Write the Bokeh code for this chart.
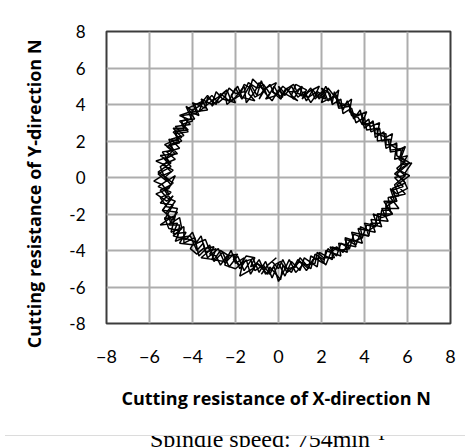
from bokeh.plotting import figure
from bokeh.models import FixedTicker, Div, Range1d
from bokeh.layouts import column
from bokeh.embed import file_html
from bokeh.resources import INLINE

# Cutting-force trajectory (laps), N
lap1_x = [-5.3, -4.9, -5.4, -4.8, -5.2, -4.6, -5.0, -4.4, -4.8, -4.1, -4.5, -3.8, -4.0, -3.4, -3.3, -2.9,
          -2.7, -2.3, -2.0, -1.7, -1.3, -1.0, -0.8, -0.5, -0.2, 0.1, 0.4, 0.7, 1.0, 1.3, 1.6, 1.9, 2.2,
          2.5, 2.6, 3.0, 3.2, 3.5, 3.8, 4.0, 4.4, 4.5, 4.9, 5.0, 5.5, 5.4, 6.0, 5.6, 6.1,
          5.5, 5.9, 5.2, 5.6, 4.8, 5.1, 4.3, 4.5, 3.7, 3.9, 3.1, 3.2, 2.5, 2.5, 1.9, 1.8,
          1.2, 1.0, 0.6, 0.3, 0.0, -0.3, -0.6, -0.9, -1.2, -1.6, -1.9, -2.3, -2.6, -3.0, -3.2, -3.7, -3.9,
          -4.4, -4.4, -5.0, -4.8, -5.3, -4.9, -5.5, -5.0, -5.6, -5.1]
lap1_y = [0.0, 0.4, 0.7, 1.0, 1.4, 1.6, 2.1, 2.3, 2.8, 2.9, 3.4, 3.5, 4.1, 3.8, 4.4, 4.0,
          4.6, 4.2, 4.9, 4.3, 5.1, 4.5, 5.3, 4.4, 5.0, 4.3, 4.9, 4.3, 4.9, 4.2, 4.8, 4.3, 5.0,
          4.1, 4.7, 3.7, 4.2, 3.2, 3.7, 2.7, 3.1, 2.2, 2.5, 1.6, 1.9, 1.0, 1.2, 0.4, 0.1,
          -0.4, -0.9, -1.1, -1.7, -1.7, -2.4, -2.3, -3.0, -2.8, -3.6, -3.3, -4.1, -3.8, -4.5, -4.1, -4.9,
          -4.4, -5.1, -4.6, -5.4, -4.7, -5.5, -4.6, -5.2, -4.4, -5.1, -4.3, -4.9, -4.1, -4.6, -3.7, -4.3, -3.3,
          -3.6, -2.7, -3.0, -2.1, -2.3, -1.5, -1.4, -0.8, -0.5, -0.1]
lap2_x = [-5.1, -5.6, -5.0, -5.5, -4.7, -5.1, -4.5, -4.9, -4.2, -4.6, -3.9, -4.2, -3.5, -3.7, -3.0, -3.1,
          -2.5, -2.4, -2.0, -1.6, -1.5, -1.1, -0.9, -0.6, -0.3, 0.0, 0.3, 0.6, 0.9, 1.2, 1.5, 1.8, 2.1,
          2.3, 2.7, 2.8, 3.3, 3.4, 3.7, 3.9, 4.2, 4.3, 4.7, 4.8, 5.2, 5.2, 5.7, 5.7, 6.2, 5.8,
          5.4, 5.8, 5.3, 5.5, 4.9, 5.3, 4.6, 4.8, 4.0, 4.2, 3.4, 3.6, 2.8, 2.9, 2.2, 2.1, 1.5,
          1.4, 0.9, 0.6, 0.2, 0.1, -0.4, -0.5, -1.0, -1.3, -1.5, -1.8, -2.1, -2.5, -2.8, -3.3, -3.5,
          -3.8, -4.1, -4.7, -4.6, -5.1, -4.7, -5.4, -5.0, -5.3, -4.9, -5.3]
lap2_y = [-0.1, 0.3, 0.8, 1.2, 1.3, 1.8, 2.0, 2.5, 2.6, 3.1, 3.2, 3.8, 4.2, 3.6, 4.3, 3.9,
          4.7, 4.0, 4.4, 5.0, 4.1, 4.7, 5.2, 4.6, 4.2, 4.8, 4.5, 5.0, 4.4, 4.7, 4.1, 4.6, 4.4,
          4.9, 4.3, 3.8, 3.9, 3.4, 3.3, 2.9, 3.2, 2.5, 2.7, 2.0, 2.1, 1.4, 1.5, 0.7, 0.8, 0.1,
          0.0, -0.5, -0.7, -1.3, -1.3, -2.0, -2.0, -2.7, -2.5, -3.2, -3.0, -3.8, -3.6, -4.3, -4.0, -4.7, -4.3,
          -5.0, -4.5, -5.2, -4.8, -5.6, -4.9, -5.3, -4.7, -5.3, -4.5, -5.0, -4.2, -4.7, -3.9, -4.4, -3.6,
          -4.0, -3.2, -3.3, -2.6, -2.6, -1.9, -1.8, -1.2, -0.7, -0.3, 0.0]
lap3_x = [2.4, 2.0, 2.2, 1.7, 1.9, 1.4, 1.1, 1.3, 0.8, 0.6, 0.9, 0.3, 0.0, 0.2, -0.3, -0.1, -0.6, -0.9,
          -0.7, -1.2, -1.4, -1.1, -1.7, -1.9, -2.2, -2.0, -2.6, -2.9, -3.1, -3.6, -3.3, -3.9, -4.3, -4.0,
          -4.5, -4.2, -4.8, -4.6, -5.2, -4.8, -5.3, -5.0, -5.6, -5.2, -4.8, -5.1, -5.7, -5.2, -4.9, -5.4,
          -5.0, -5.5, -4.7, -4.9, -4.3, -4.6, -3.9, -3.6, -3.4, -2.9, -3.1, -2.5, -2.2, -2.0, -1.6, -1.8,
          -1.2, -0.9, -0.6, -0.2, 0.0, 0.3, 0.5, 0.8, 1.2, 1.5, 1.7, 2.1, 2.3, 2.7, 2.9, 3.3, 3.5, 3.9,
          4.1, 4.5, 4.6, 5.0, 5.0, 5.5, 5.3, 5.9, 5.5, 6.0, 5.6, 5.8, 5.2, 5.1, 4.6, 4.6, 4.1, 4.0, 3.6,
          3.4, 3.0, 2.9, 2.5, 2.4]
lap3_y = [4.6, 4.9, 4.3, 4.5, 5.0, 4.7, 4.3, 4.8, 5.1, 4.5, 4.2, 4.6, 5.0, 4.4, 4.7, 5.2, 4.9, 4.3,
          4.8, 5.4, 4.6, 4.2, 4.4, 5.0, 4.5, 4.1, 4.3, 4.7, 4.0, 4.3, 3.7, 3.6, 3.9, 3.1,
          2.9, 2.5, 2.4, 1.9, 1.7, 1.3, 1.0, 0.6, 0.2, -0.2, 0.1, -0.6, -0.9, -1.3, -1.0, -1.8,
          -2.2, -2.6, -2.5, -3.1, -3.0, -3.6, -3.7, -3.2, -4.1, -3.9, -4.5, -4.6, -4.0, -4.7, -4.4, -5.4,
          -5.0, -4.5, -5.3, -4.9, -5.7, -5.0, -4.5, -5.2, -4.7, -5.0, -4.2, -4.5, -3.9, -4.3, -3.6, -3.9,
          -3.1, -3.3, -2.6, -2.7, -2.0, -2.1, -1.4, -1.3, -0.6, -0.3, 0.2, 0.7, 1.0, 1.6, 1.5, 2.1, 2.0,
          2.7, 2.6, 3.3, 3.0, 3.8, 3.5, 4.3, 4.0, 4.6]
lap4_pts = [(0.0, -5.0), (-0.3, -4.6), (-0.1, -4.4), (-0.5, -4.8), (-0.8, -5.3), (-0.6, -5.0), (-1.0, -4.7),
            (-1.3, -4.9), (-1.1, -4.4), (-1.5, -4.3), (-1.8, -4.8), (-2.1, -4.5), (-1.9, -4.2), (-2.4, -4.3),
            (-2.7, -4.8), (-2.9, -4.3), (-3.2, -4.2), (-3.0, -3.8), (-3.5, -3.9), (-3.8, -4.2), (-4.1, -3.9),
            (-3.9, -3.5), (-4.4, -3.3), (-4.8, -3.5), (-4.6, -2.9), (-5.1, -2.8), (-5.3, -2.2), (-4.9, -2.3),
            (-4.7, -1.7), (-5.2, -1.6), (-5.5, -1.1), (-5.1, -0.9), (-5.4, -0.4), (-5.8, -0.2), (-5.4, 0.1),
            (-5.0, 0.3), (-5.3, 0.7), (-5.7, 0.9), (-5.2, 1.1), (-4.9, 1.5), (-5.3, 1.8), (-4.9, 2.0),
            (-4.5, 2.2), (-4.9, 2.7), (-4.4, 2.7), (-4.2, 3.2), (-4.6, 3.4), (-4.1, 3.6), (-3.7, 3.4),
            (-3.9, 4.0), (-3.4, 4.1), (-3.1, 4.5), (-2.8, 4.1), (-2.5, 4.4), (-2.3, 4.9), (-2.0, 4.6),
            (-1.6, 4.7), (-1.4, 5.2), (-1.0, 4.9), (-0.7, 5.1), (-0.4, 4.6), (-0.6, 4.3), (-0.1, 4.5),
            (0.2, 5.0), (0.5, 4.7), (0.8, 4.7), (1.1, 5.0), (1.0, 4.5), (1.4, 4.4), (1.8, 4.7), (2.1, 4.5),
            (2.0, 4.1), (2.5, 4.4), (2.8, 4.8), (2.7, 4.1), (3.1, 4.0), (3.4, 4.3), (3.3, 3.6), (3.7, 3.4),
            (4.1, 3.6), (3.9, 3.0), (4.3, 2.8), (4.7, 3.0), (4.6, 2.4), (5.0, 2.2), (5.3, 2.4), (5.2, 1.8),
            (5.6, 1.5), (5.9, 1.7), (5.7, 1.1), (6.1, 0.8), (5.7, 0.5), (5.4, 0.2), (5.8, -0.1), (6.0, -0.6),
            (5.5, -0.9), (5.2, -0.6), (5.4, -1.3), (5.0, -1.6), (5.3, -2.0), (4.8, -2.2), (4.4, -2.0),
            (4.6, -2.6), (4.2, -2.9), (3.8, -2.7), (3.9, -3.3), (3.5, -3.5), (3.1, -3.4), (3.3, -3.9),
            (2.8, -4.0), (2.4, -3.8), (2.6, -4.4), (2.1, -4.4), (1.8, -4.1), (1.7, -4.7), (1.3, -4.8),
            (1.0, -4.4), (0.8, -4.9), (0.4, -5.0), (0.2, -4.5), (0.0, -5.0)]
lap5_pts = [(-5.3, 0.0), (-5.0, -0.4), (-5.5, -0.7), (-5.2, -1.1), (-4.8, -1.3), (-5.2, -1.9), (-5.0, -2.5),
            (-4.6, -2.2), (-4.5, -2.8), (-4.9, -3.2), (-4.3, -3.4), (-4.0, -3.0), (-3.8, -3.6), (-3.4, -3.4),
            (-3.2, -4.0), (-3.6, -4.4), (-3.0, -4.5), (-2.7, -4.0), (-2.3, -4.3), (-2.5, -4.8), (-2.0, -5.0),
            (-1.6, -4.6), (-1.3, -4.5), (-1.1, -5.1), (-0.7, -4.8), (-0.4, -5.3), (-0.2, -4.8), (0.1, -4.6),
            (0.4, -5.2), (0.7, -4.9), (1.0, -4.6), (1.3, -5.1), (1.6, -4.5), (1.9, -4.4), (2.2, -4.8),
            (2.4, -4.2), (2.7, -3.8), (3.0, -4.1), (3.3, -3.5), (3.6, -3.7), (3.8, -3.1), (4.2, -3.2),
            (4.3, -2.5), (4.7, -2.5), (4.8, -1.8), (5.2, -1.8), (5.1, -1.1), (5.6, -1.0), (5.4, -0.4),
            (5.9, 0.1), (5.5, 0.5), (5.9, 0.9), (5.5, 1.2), (5.5, 1.8), (5.0, 1.8), (5.0, 2.4), (4.5, 2.4),
            (4.4, 3.0), (3.9, 2.9), (3.9, 3.5), (3.4, 3.4), (3.3, 4.0), (2.8, 3.9), (2.7, 4.5), (2.3, 4.2),
            (2.1, 4.8), (1.7, 4.3), (1.5, 4.9), (1.2, 4.5), (0.9, 4.6), (0.7, 5.1), (0.3, 4.8), (0.1, 4.3),
            (-0.2, 4.6), (-0.4, 5.1), (-0.8, 4.6), (-1.1, 4.4), (-1.3, 4.9), (-1.6, 5.1), (-1.8, 4.5),
            (-2.2, 4.2), (-2.4, 4.8), (-2.8, 4.4), (-3.1, 4.2), (-3.3, 4.5), (-3.7, 3.9), (-4.0, 3.7),
            (-4.1, 3.2), (-4.5, 3.1), (-4.4, 2.6), (-4.8, 2.6), (-4.7, 2.0), (-5.1, 2.1), (-4.9, 1.5),
            (-5.4, 1.4), (-5.1, 0.9), (-5.5, 0.6), (-5.3, 0.0)]

tick_values = [-8, -6, -4, -2, 0, 2, 4, 6, 8]
x_tick_labels = ["\u22128", "\u22126", "\u22124", "\u22122", "0", "2", "4", "6", "8"]
y_tick_labels = ["-8", "-6", "-4", "-2", "0", "2", "4", "6", "8"]
x_title = "Cutting resistance of X-direction  N"
y_title = "Cutting resistance of Y-direction  N"
caption = "Spindle speed: 754min\u207b\u00b9"

p = figure(width=465, height=430, x_range=Range1d(-8, 8), y_range=Range1d(-8, 8),
           output_backend="svg", toolbar_location=None,
           min_border_left=106, min_border_right=15, min_border_top=31, min_border_bottom=107)

p.line(lap1_x + lap2_x, lap1_y + lap2_y, line_color="black", line_width=1.5)
p.line(lap3_x, lap3_y, line_color="black", line_width=1.5)
p.line([a for a, b in lap4_pts], [b for a, b in lap4_pts], line_color="black", line_width=1.5)
p.line([a for a, b in lap5_pts], [b for a, b in lap5_pts], line_color="black", line_width=1.5)

p.outline_line_color = "#3c3c3c"
p.outline_line_width = 2
p.grid.grid_line_color = "#adadad"
p.grid.grid_line_width = 2
p.xaxis.ticker = FixedTicker(ticks=tick_values)
p.yaxis.ticker = FixedTicker(ticks=tick_values)
p.xaxis.major_label_overrides = {v: s for v, s in zip(tick_values, x_tick_labels)}
p.yaxis.major_label_overrides = {v: s for v, s in zip(tick_values, y_tick_labels)}

for ax in (p.xaxis, p.yaxis):
    ax.axis_line_color = None
    ax.major_tick_line_color = None
    ax.minor_tick_line_color = None
    ax.major_tick_out = 0
    ax.major_tick_in = 0
    ax.major_label_text_font = "Lato"
    ax.major_label_text_color = "black"
    ax.axis_label_text_font = "Open Sans"
    ax.axis_label_text_font_style = "bold"
    ax.axis_label_text_font_size = "18px"
    ax.axis_label_text_color = "black"

p.xaxis.major_label_text_font_size = "18px"
p.yaxis.major_label_text_font_size = "17px"
p.xaxis.major_label_standoff = 26
p.yaxis.major_label_standoff = 21

p.xaxis.axis_label = x_title
p.xaxis.axis_label_standoff = 20
p.yaxis.axis_label = y_title + "\u00a0" * 6
p.yaxis.axis_label_standoff = 20

cap_html = (
    '<div style="height:17px;width:465px;overflow:hidden;border-top:1px solid #dcdcdc;box-sizing:border-box;">'
    '<div style="margin-top:-9px;padding-left:145px;font-family:\'Liberation Serif\';font-size:24px;'
    'line-height:24px;white-space:nowrap;color:#000;">' + caption + '</div></div>'
)
cap = Div(text=cap_html, width=465, height=17)

layout = column(p, cap)
open("out.html", "w").write(file_html(layout, INLINE))
